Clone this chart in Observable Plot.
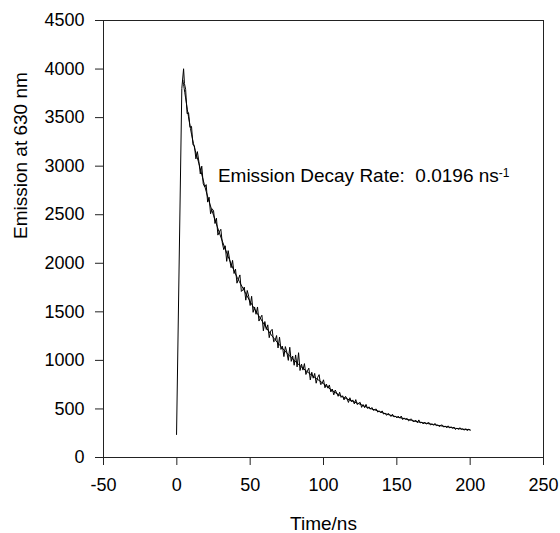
<!DOCTYPE html>
<html>
<head>
<meta charset="utf-8">
<script src="https://cdn.jsdelivr.net/npm/d3@7"></script>
<script src="https://cdn.jsdelivr.net/npm/@observablehq/plot@0.6"></script>
<style>
  html, body { margin: 0; padding: 0; background: #fff; }
  text { white-space: pre; }
</style>
</head>
<body>
<div id="chart"></div>
<script>
// Measured emission trace (time in ns, emission counts)
const timeNs = [-0.2, 3.4, 4.6, 5.2,
  6,7,8,9,10,11,12,13,14,15,16,17,18,19,20,21,22,23,24,25,26,27,28,29,30,
  31,32,33,34,35,36,37,38,39,40,41,42,43,44,45,46,47,48,49,50,
  51,52,53,54,55,56,57,58,59,60,61,62,63,64,65,66,67,68,69,70,
  71,72,73,74,75,76,77,78,79,80,81,82,83,84,85,86,87,88,89,90,
  91,92,93,94,95,96,97,98,99,100,101,102,103,104,105,106,107,108,109,110,
  111,112,113,114,115,116,117,118,119,120,121,122,123,124,125,126,127,128,129,130,
  131,132,133,134,135,136,137,138,139,140,141,142,143,144,145,146,147,148,149,150,
  151,152,153,154,155,156,157,158,159,160,161,162,163,164,165,166,167,168,169,170,
  171,172,173,174,175,176,177,178,179,180,181,182,183,184,185,186,187,188,189,190,
  191,192,193,194,195,196,197,198,199,200];
const emission = [237, 3800, 4003, 3850,
  3790,3540,3550,3400,3410,3220,3210,3075,3150,3050,2920,3000,2820,2785,2810,2630,2680,2510,2560,2545,2410,2465,2290,2325,2350,
  2210,2140,2180,2020,2130,2040,1955,2030,1895,1940,1795,1840,1880,1710,1725,1755,1620,1720,1660,1565,
  1660,1495,1550,1475,1550,1405,1440,1465,1305,1400,1318,1366,1234,1302,1320,1192,1204,1256,1128,1240,
  1113,1146,1039,1142,1085,1000,1135,990,1045,950,1056,933,1079,896,962,900,967,855,892,920,
  799,878,817,866,765,824,853,752,761,800,718,756,714,747,675,705,645,695,665,630,
  672,619,636,593,630,608,567,615,574,593,552,596,545,559,568,516,545,513,547,505,
  522,497,515,485,495,498,467,481,462,480,447,456,434,453,444,422,446,418,424,408,
  426,405,427,390,408,392,403,377,392,396,371,373,384,358,387,356,364,345,365,344,
  356,359,335,346,332,351,328,334,317,334,334,313,323,306,326,305,316,302,313,288,
  304,289,307,290,294,281,297,276,292,281];

// Fitted decay curve
const fitTime = [4,5,10,15,20,25,30,35,40,45,50,55,60,65,70,75,80,85,90,95,100,105,110,115,120,125,130,135,140,145,150,155,160,165,170,175,180,185,190,195,200];
const fitEmission = [3880,3800,3330,3030,2740,2495,2270,2070,1890,1745,1605,1480,1360,1250,1160,1075,1000,932,870,815,760,700,650,610,578,548,515,490,462,438,418,400,382,365,352,340,326,314,300,292,285];

const xTicks = [-50, 0, 50, 100, 150, 200, 250];
const yTicks = [0, 500, 1000, 1500, 2000, 2500, 3000, 3500, 4000, 4500];

const xLabel = "Time/ns";
const yLabel = "Emission at 630 nm";
const annotation = "Emission Decay Rate:  0.0196 ns";
const annotationSup = "-1";
const annotationPos = {t: 28, v: 2900};

const trace = timeNs.map((t, i) => ({t, v: emission[i]}));
const fit = fitTime.map((t, i) => ({t, v: fitEmission[i]}));

const chart = Plot.plot({
  width: 560,
  height: 533,
  marginLeft: 103,
  marginRight: 17,
  marginTop: 20,
  marginBottom: 76,
  style: {fontFamily: "'Liberation Sans', Arial, sans-serif", fontSize: "18px", background: "#fff", color: "#000"},
  x: {domain: [-50, 250]},
  y: {domain: [0, 4500]},
  marks: [
    Plot.frame({stroke: "#222", strokeWidth: 1}),
    Plot.axisX({ticks: xTicks, tickFormat: d => String(d), tickSize: 8, tickPadding: 13, label: null, stroke: "#222", fontSize: 18}),
    Plot.axisY({ticks: yTicks, tickFormat: d => String(d), tickSize: 8, tickPadding: 11, label: null, stroke: "#222", fontSize: 18}),
    Plot.line(fit, {x: "t", y: "v", stroke: "#000", strokeWidth: 1, curve: "natural"}),
    Plot.line(trace, {x: "t", y: "v", stroke: "#000", strokeWidth: 1}),
    Plot.text([annotation], {x: () => annotationPos.t, y: () => annotationPos.v, text: d => d, textAnchor: "start", lineAnchor: "middle", fontSize: 19, className: "annot"}),
    Plot.text([xLabel], {frameAnchor: "bottom", dy: 66, text: d => d, lineAnchor: "middle", fontSize: 19}),
    Plot.text([yLabel], {frameAnchor: "left", dx: -83, rotate: -90, text: d => d, lineAnchor: "middle", fontSize: 19})
  ]
});

document.getElementById("chart").appendChild(chart);

// superscript "-1" after the rate unit
d3.select(chart).selectAll("g.annot text").each(function() {
  const el = d3.select(this);
  const txt = el.text();
  el.text(null);
  el.append("tspan").text(txt);
  el.append("tspan").attr("dy", "-0.45em").attr("font-size", "12px").text(annotationSup);
});
</script>
</body>
</html>
